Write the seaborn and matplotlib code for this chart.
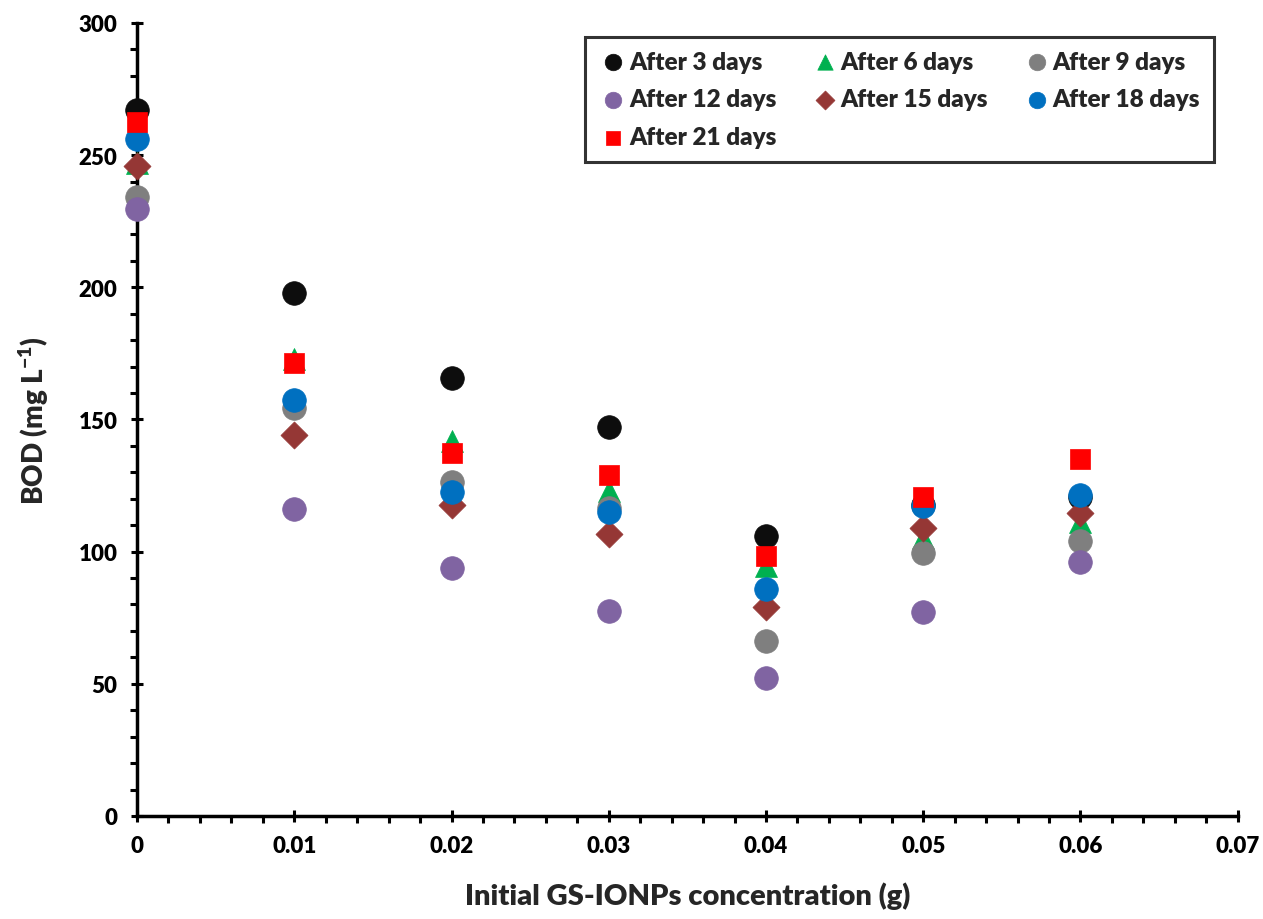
import matplotlib
matplotlib.use("Agg")
import matplotlib.pyplot as plt
import seaborn as sns
import pandas as pd
from matplotlib.ticker import MultipleLocator, FuncFormatter

# ---- data ----
conc = [0.0, 0.01, 0.02, 0.03, 0.04, 0.05, 0.06]
series_names = ["After 3 days", "After 6 days", "After 9 days", "After 12 days",
                "After 15 days", "After 18 days", "After 21 days"]
day3 = [267, 198, 165.5, 147.2, 106, 117.5, 120.7]
day6 = [247, 173, 142, 123, 94.6, 105, 111.2]
day9 = [234, 154.4, 126.4, 116.5, 66.2, 99.3, 104]
day12 = [229.5, 116, 93.8, 77.6, 52.2, 77.2, 96.1]
day15 = [246, 144, 117.7, 106.7, 79, 109, 114.5]
day18 = [256, 157.4, 122.6, 114.8, 86, 117.3, 121.3]
day21 = [262.5, 171.5, 137.3, 129, 98.4, 120.7, 134.9]

values = [day3, day6, day9, day12, day15, day18, day21]
colors = ["#0d0d0d", "#00b050", "#7f7f7f", "#8064a2", "#953735", "#0070c0", "#ff0000"]
markers = ["o", "^", "o", "o", "D", "o", "s"]
sizes = [290, 250, 290, 290, 190, 290, 190]

sns.set_theme(style="white")
plt.rcParams["font.family"] = ["Lato", "DejaVu Sans"]
plt.rcParams["font.weight"] = "heavy"
plt.rcParams["mathtext.fontset"] = "custom"
plt.rcParams["mathtext.bf"] = "Lato:heavy"
plt.rcParams["mathtext.rm"] = "Lato:heavy"
plt.rcParams["mathtext.default"] = "bf"

fig = plt.figure(figsize=(12.63, 9.2), dpi=100)
ax = fig.add_axes([0.1085, 0.112, 0.8715, 0.862])

for name, vals, c, m, s in zip(series_names, values, colors, markers, sizes):
    df = pd.DataFrame({"x": conc, "y": vals})
    sns.scatterplot(data=df, x="x", y="y", ax=ax, color=c, marker=m, s=s,
                    edgecolor=c, linewidth=0.5, label=name, legend=True,
                    clip_on=False, zorder=3)

ax.set_xlim(0, 0.07)
ax.set_ylim(0, 300)
ax.xaxis.set_major_locator(MultipleLocator(0.01))
ax.xaxis.set_minor_locator(MultipleLocator(0.002))
ax.yaxis.set_major_locator(MultipleLocator(50))
ax.yaxis.set_minor_locator(MultipleLocator(10))
ax.xaxis.set_major_formatter(FuncFormatter(lambda v, p: "0" if abs(v) < 1e-9 else f"{v:.2f}"))

for side in ["top", "right"]:
    ax.spines[side].set_visible(False)
for side in ["left", "bottom"]:
    ax.spines[side].set_color("black")
    ax.spines[side].set_linewidth(2.5)

ax.tick_params(axis="both", which="major", direction="inout", length=8, width=2.2,
               colors="black", labelsize=16, pad=10)
ax.tick_params(axis="both", which="minor", direction="out", length=5, width=2.2, colors="black")
ax.tick_params(axis="x", which="both", bottom=True)
ax.tick_params(axis="y", which="both", left=True)
for lbl in ax.get_xticklabels() + ax.get_yticklabels():
    lbl.set_fontweight("heavy")

ax.set_xlabel("Initial GS-IONPs concentration (g)", fontsize=21, fontweight="heavy", labelpad=18)
ax.set_ylabel(r"BOD (mg L$^{-1}$)", fontsize=20, fontweight="heavy", labelpad=20)

h, l = ax.get_legend_handles_labels()
hd = dict(zip(l, h))
order = ["After 3 days", "After 12 days", "After 21 days", "After 6 days",
         "After 15 days", "After 9 days", "After 18 days"]
leg = ax.legend([hd[o] for o in order], order, ncol=3, loc="upper right",
                bbox_to_anchor=(0.978, 0.982), borderaxespad=0, frameon=True, fancybox=False,
                edgecolor="black", markerscale=0.7,
                handletextpad=0.05, columnspacing=1.4, labelspacing=0.65,
                borderpad=0.55, handlelength=1.2, prop={"weight": "heavy", "size": 17.5})
leg.get_frame().set_linewidth(2.2)

fig.savefig("out.png", dpi=100)
